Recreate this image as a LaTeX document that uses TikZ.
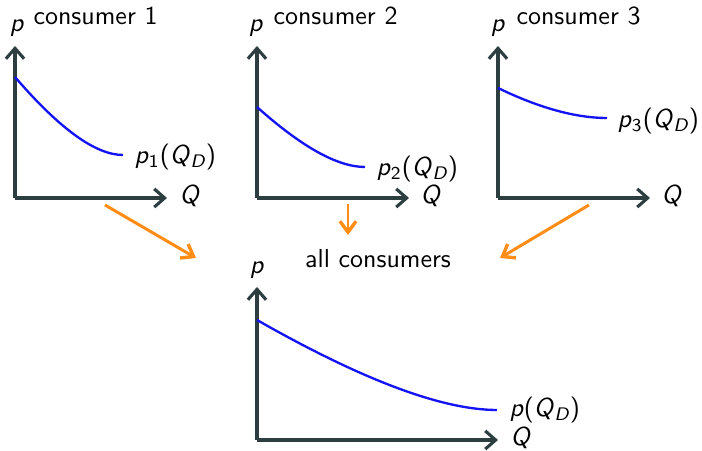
\documentclass[tikz,border=0pt]{standalone}
\usetikzlibrary{arrows.meta}
\definecolor{axiscol}{RGB}{45,62,64}
\definecolor{curvecol}{RGB}{20,20,245}
\definecolor{arrcol}{RGB}{255,140,20}
\newcommand{\myp}{\textit{p}}
\newcommand{\myQD}{(\textit{Q}\textsubscript{\itshape D})}
\begin{document}
\begin{tikzpicture}[x=0.385pt,y=-0.385pt,font=\sffamily,
  axis/.style={draw=axiscol,line width=1.2pt,-{Straight Barb[length=4pt,width=7pt,line width=1.2pt]}},
  demand/.style={draw=curvecol,line width=0.9pt},
  flow/.style={draw=arrcol,line width=1.15pt,-{Straight Barb[length=4.2pt,width=6.2pt,line width=1.3pt]}},
  lbl/.style={inner sep=0pt,anchor=base west},
  plbl/.style={inner sep=0pt,anchor=base}]
\useasboundingbox (0,0) rectangle (702,451);
% panel 1
\coordinate (o1) at (15,198);
\coordinate (y1) at (15,46);
\coordinate (x1) at (167,198);
\draw[axis] (o1) -- (y1);
\draw[axis] (o1) -- (x1);
\coordinate (c1s) at (15,77);
\coordinate (c1e) at (123,155);
\draw[demand] (c1s) .. controls (59.7,129) and (95.7,155) .. (c1e);
\node[plbl] (p1) at (17,32) {\myp};
\node[lbl] (t1) at (33,25) {consumer 1};
\node[lbl] (q1) at (179,204) {\textit{Q}};
\node[lbl] (d1) at (134,164) {\myp\textsubscript{1}\myQD};
% panel 2
\coordinate (o2) at (257,198);
\coordinate (y2) at (257,46);
\coordinate (x2) at (409,198);
\draw[axis] (o2) -- (y2);
\draw[axis] (o2) -- (x2);
\coordinate (c2s) at (257,107);
\coordinate (c2e) at (365,167);
\draw[demand] (c2s) .. controls (301.7,147) and (337.7,167) .. (c2e);
\node[plbl] (p2) at (256,32) {\myp};
\node[lbl] (t2) at (273,25) {consumer 2};
\node[lbl] (q2) at (420,204) {\textit{Q}};
\node[lbl] (d2) at (376,176) {\myp\textsubscript{2}\myQD};
% panel 3
\coordinate (o3) at (498,198);
\coordinate (y3) at (498,46);
\coordinate (x3) at (650,198);
\draw[axis] (o3) -- (y3);
\draw[axis] (o3) -- (x3);
\coordinate (c3s) at (498,88);
\coordinate (c3e) at (607,118);
\draw[demand] (c3s) .. controls (539.3,108) and (575.7,118) .. (c3e);
\node[plbl] (p3) at (498,32) {\myp};
\node[lbl] (t3) at (516,25) {consumer 3};
\node[lbl] (q3) at (661,204) {\textit{Q}};
\node[lbl] (d3) at (617,128) {\myp\textsubscript{3}\myQD};
% total panel
\coordinate (o4) at (257,440);
\coordinate (y4) at (257,287);
\coordinate (x4) at (498,440);
\draw[axis] (o4) -- (y4);
\draw[axis] (o4) -- (x4);
\coordinate (c4s) at (257,320);
\coordinate (c4e) at (497,410);
\draw[demand] (c4s) .. controls (362.3,380) and (442.3,410) .. (c4e);
\node[plbl] (p4) at (257,274) {\myp};
\node[plbl] (t4) at (378,268) {all consumers};
\node[lbl] (q4) at (510,446) {\textit{Q}};
\node[lbl] (d4) at (509,417) {\myp\myQD};
% flows
\coordinate (f1s) at (105,205);
\coordinate (f1e) at (196,258);
\coordinate (f2s) at (348,204);
\coordinate (f2e) at (348,235);
\coordinate (f3s) at (589,205);
\coordinate (f3e) at (500,258);
\draw[flow] (f1s) -- (f1e);
\draw[flow] (f2s) -- (f2e);
\draw[flow] (f3s) -- (f3e);
\end{tikzpicture}
\end{document}
